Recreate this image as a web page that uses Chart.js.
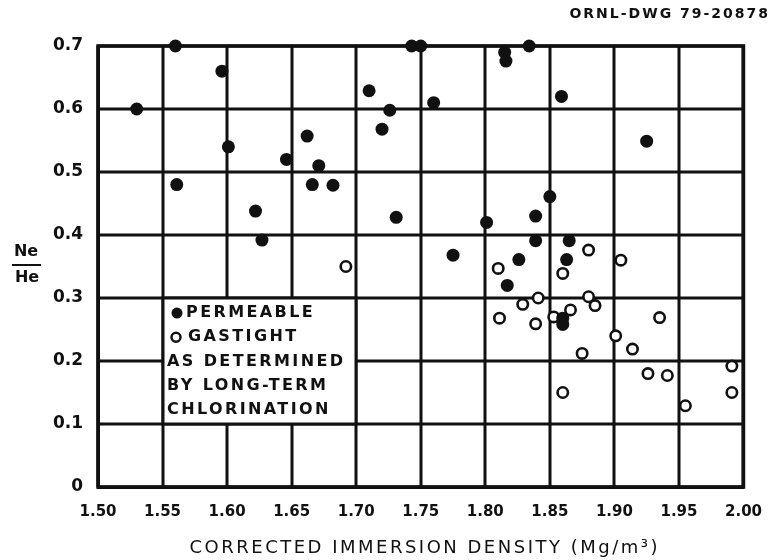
<!DOCTYPE html>
<html>
<head>
<meta charset="utf-8">
<script src="https://cdn.jsdelivr.net/npm/chart.js@4/dist/chart.umd.min.js"></script>
<style>
  html, body { margin: 0; padding: 0; background: #fff; }
</style>
</head>
<body>
<canvas id="chart" width="778" height="560"></canvas>
<script>
// permeable samples (filled dots)
const permeableX = [1.530, 1.560, 1.561, 1.596, 1.601, 1.622, 1.627, 1.646, 1.662, 1.666, 1.671, 1.682,
  1.710, 1.720, 1.726, 1.731, 1.743, 1.750, 1.760, 1.775, 1.801, 1.815, 1.816, 1.817, 1.826, 1.834,
  1.839, 1.839, 1.850, 1.859, 1.863, 1.865, 1.860, 1.860, 1.925]
const permeableY = [0.600, 0.700, 0.480, 0.660, 0.540, 0.438, 0.392, 0.520, 0.557, 0.480, 0.510, 0.479,
  0.629, 0.568, 0.598, 0.428, 0.700, 0.700, 0.610, 0.368, 0.420, 0.690, 0.676, 0.320, 0.361, 0.700,
  0.430, 0.391, 0.461, 0.620, 0.361, 0.391, 0.268, 0.258, 0.549]

// gastight samples (open circles)
const gastightX = [1.692, 1.810, 1.811, 1.829, 1.839, 1.841, 1.853, 1.860, 1.866, 1.875, 1.880, 1.880,
  1.885, 1.901, 1.905, 1.914, 1.926, 1.935, 1.941, 1.955, 1.991, 1.991, 1.860]
const gastightY = [0.350, 0.347, 0.268, 0.290, 0.259, 0.300, 0.270, 0.339, 0.281, 0.212, 0.376, 0.302,
  0.288, 0.240, 0.360, 0.219, 0.180, 0.269, 0.177, 0.129, 0.192, 0.150, 0.150]

const xTickValues = [1.50, 1.55, 1.60, 1.65, 1.70, 1.75, 1.80, 1.85, 1.90, 1.95, 2.00]
const yTickValues = [0, 0.1, 0.2, 0.3, 0.4, 0.5, 0.6, 0.7]

const legendLines = ['PERMEABLE', 'GASTIGHT', 'AS DETERMINED', 'BY LONG-TERM', 'CHLORINATION']
const drawingNo = 'ORNL-DWG 79-20878'
const xTitle = 'CORRECTED IMMERSION DENSITY (Mg/m³)'
const yTitleTop = 'Ne'
const yTitleBottom = 'He'

const INK = '#111'
const FONT = '"DejaVu Sans", "Liberation Sans", sans-serif'

const toPoints = (xs, ys) => xs.map((x, i) => ({ x: x, y: ys[i] }))

// grid, heavy frame and the white legend box
const framePlugin = {
  id: 'frame',
  beforeDatasetsDraw(chart) {
    const ctx = chart.ctx
    const xs = chart.scales.x
    const ys = chart.scales.y
    const a = chart.chartArea

    ctx.save()
    ctx.fillStyle = INK
    xTickValues.forEach(v => {
      const px = Math.round(xs.getPixelForValue(v))
      ctx.fillRect(px - 1.5, a.top, 3, a.bottom - a.top)
    })
    yTickValues.forEach(v => {
      const py = Math.round(ys.getPixelForValue(v))
      ctx.fillRect(a.left, py - 1.5, a.right - a.left, 3)
    })

    ctx.strokeStyle = INK
    ctx.lineWidth = 3.5
    ctx.strokeRect(a.left, a.top, a.right - a.left, a.bottom - a.top)

    // legend box sits on the 1.55-1.70 / 0.1-0.3 grid cells
    const l = Math.round(xs.getPixelForValue(1.55))
    const r = Math.round(xs.getPixelForValue(1.70))
    const t = Math.round(ys.getPixelForValue(0.3))
    const b = Math.round(ys.getPixelForValue(0.1))
    ctx.fillStyle = '#fff'
    ctx.fillRect(l, t, r - l, b - t)
    ctx.lineWidth = 3
    ctx.strokeRect(l, t, r - l, b - t)

    ctx.fillStyle = INK
    ctx.font = 'bold 16px ' + FONT
    ctx.letterSpacing = '2.4px'
    ctx.textBaseline = 'middle'
    ctx.textAlign = 'left'
    const lineH = (b - t) / 5.2
    legendLines.forEach((txt, i) => {
      const y = t + lineH * (i + 0.62)
      if (i === 0) {
        ctx.beginPath()
        ctx.arc(l + 14, y, 5.5, 0, Math.PI * 2)
        ctx.fill()
        ctx.fillText(txt, l + 23, y)
      } else if (i === 1) {
        ctx.beginPath()
        ctx.lineWidth = 2.5
        ctx.arc(l + 13, y, 4.5, 0, Math.PI * 2)
        ctx.stroke()
        ctx.fillText(txt, l + 25, y)
      } else {
        ctx.fillText(txt, l + 4, y)
      }
    })
    ctx.restore()
  },
  afterDraw(chart) {
    const ctx = chart.ctx
    const a = chart.chartArea
    ctx.save()
    ctx.fillStyle = INK
    ctx.textBaseline = 'middle'

    // drawing number, top right
    ctx.font = 'bold 14px ' + FONT
    ctx.letterSpacing = '2px'
    ctx.textAlign = 'right'
    ctx.fillText(drawingNo, 770, 14)

    // x title
    ctx.font = '18px ' + FONT
    ctx.letterSpacing = '2.5px'
    ctx.textAlign = 'center'
    ctx.fillText(xTitle, (a.left + a.right) / 2 + 4, 548)

    // Ne / He fraction
    ctx.font = 'bold 16px ' + FONT
    ctx.letterSpacing = '0px'
    ctx.fillText(yTitleTop, 26, 252)
    ctx.fillText(yTitleBottom, 27, 278)
    ctx.lineWidth = 2
    ctx.strokeStyle = INK
    ctx.beginPath()
    ctx.moveTo(12, 265)
    ctx.lineTo(41, 265)
    ctx.stroke()
    ctx.restore()
  }
}

const ctx = document.getElementById('chart').getContext('2d')
new Chart(ctx, {
  type: 'scatter',
  data: {
    datasets: [
      {
        label: 'PERMEABLE',
        data: toPoints(permeableX, permeableY),
        pointRadius: 6.5,
        pointBackgroundColor: INK,
        pointBorderColor: INK,
        pointBorderWidth: 0,
        clip: false,
      },
      {
        label: 'GASTIGHT',
        data: toPoints(gastightX, gastightY),
        pointRadius: 5.2,
        pointBackgroundColor: '#fff',
        pointBorderColor: INK,
        pointBorderWidth: 2.6,
        clip: false,
      },
    ]
  },
  options: {
    responsive: false,
    animation: false,
    events: [],
    layout: { padding: { top: 46, right: 21, left: 0, bottom: 0 } },
    plugins: {
      legend: { display: false },
      tooltip: { enabled: false },
    },
    scales: {
      x: {
        type: 'linear',
        min: 1.5,
        max: 2.0,
        afterBuildTicks: (s) => { s.ticks = xTickValues.map(v => ({ value: v })) },
        afterFit: (s) => { s.height = 73 },
        grid: { display: false, drawTicks: false },
        border: { display: true, color: INK, width: 3 },
        ticks: {
          padding: 16,
          color: INK,
          font: { family: FONT, size: 15, weight: 'bold' },
          maxRotation: 0,
          autoSkip: false,
          callback: (v) => Number(v).toFixed(2),
        },
      },
      y: {
        type: 'linear',
        min: 0,
        max: 0.7,
        afterBuildTicks: (s) => { s.ticks = yTickValues.map(v => ({ value: v })) },
        afterFit: (s) => { s.width = 98 },
        grid: { display: false, drawTicks: false },
        border: { display: true, color: INK, width: 3 },
        ticks: {
          padding: 15,
          color: INK,
          font: { family: FONT, size: 17, weight: 'bold' },
          autoSkip: false,
          callback: (v) => (v === 0 ? '0' : Number(v).toFixed(1)),
        },
      },
    },
  },
  plugins: [framePlugin],
})
</script>
</body>
</html>
